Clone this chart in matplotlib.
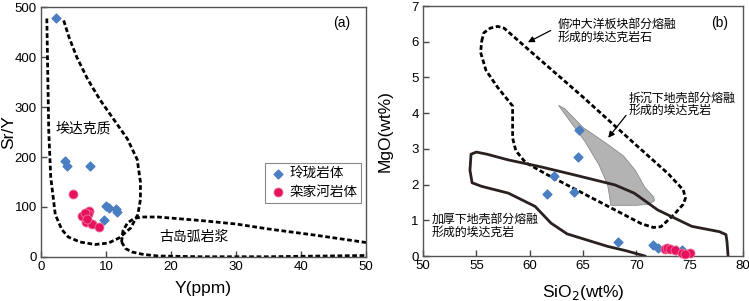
"""
Sr/Y vs Y and MgO vs SiO2 adakite discrimination plots (two panels).
"""

import numpy as np
import matplotlib
matplotlib.use("Agg")
import matplotlib.pyplot as plt
from matplotlib.patches import Polygon

plt.rcParams["font.family"] = ["Liberation Sans", "Noto Sans CJK SC", "DejaVu Sans"]
CJK = ["Noto Sans CJK SC", "DejaVu Sans"]

BLUE = "#4a7ec2"
PINK = "#e6125e"
LINE = "#2b2020"

# ---- panel (a): Y vs Sr/Y ----
ling_y = [2.3, 3.7, 4.0, 7.5, 10.0, 10.4, 11.5, 11.7, 9.7]
ling_sry = [479, 192, 183, 182, 102, 97, 95, 89, 74]
luan_y = [5.0, 6.3, 7.4, 7.3, 6.8, 6.9, 7.8, 8.9, 7.1]
luan_sry = [125, 82, 91, 85, 87, 69, 66, 59, 76]

adakite_x = [0.9, 1.0, 1.2, 1.5, 2.2, 3.2, 4.2, 6.0, 8.3, 10.4, 12.0, 13.8, 14.9,
             15.3, 15.3, 14.8, 13.3, 11.2, 9.1, 7.2, 5.5, 4.3, 3.4]
adakite_sry = [477, 400, 250, 160, 85, 55, 40, 30, 25, 28, 38, 58, 85,
               115, 150, 195, 236, 275, 314, 355, 400, 440, 477]

arc_top_x = [12.4, 12.6, 13.3, 14.3, 15.5, 18.0, 24.5, 30.0, 35.0, 42.0, 50.0]
arc_top_sry = [30, 52, 68, 77, 80, 80, 73, 66, 56, 44, 29]
arc_bot_x = [12.4, 13.0, 14.0, 15.8, 18.0, 24.5, 35.0, 50.0]
arc_bot_sry = [30, 17, 10, 5, 2, 0.5, 0.5, 3]

# ---- panel (b): SiO2 vs MgO ----
ling_si = [64.6, 64.5, 62.3, 61.6, 64.2, 68.3, 71.6, 72.0, 73.75, 74.3]
ling_mg = [3.53, 2.78, 2.25, 1.74, 1.80, 0.39, 0.32, 0.22, 0.16, 0.18]
luan_si = [72.7, 72.9, 73.2, 73.6, 74.3, 75.0, 74.6]
luan_mg = [0.20, 0.23, 0.20, 0.16, 0.08, 0.08, 0.06]

slab_si = [55.5, 55.7, 56.3, 57.0, 57.6, 60.0, 65.0, 70.0, 73.0, 74.4, 74.6, 74.4,
           73.5, 72.3, 71.6, 70.5, 66.0, 61.5, 59.6, 58.7, 58.4, 58.4, 57.0, 55.9,
           55.4, 55.5]
slab_mg = [6.02, 6.25, 6.38, 6.43, 6.38, 5.75, 4.45, 3.10, 2.30, 1.85, 1.62, 1.45,
           1.15, 0.82, 0.80, 0.90, 1.60, 2.30, 2.62, 2.95, 3.30, 4.20, 4.72, 5.20,
           5.70, 6.02]

delam_si = [62.7, 63.3, 65.0, 67.2, 68.8, 69.9, 70.8, 71.6, 71.7, 71.2, 70.0,
            67.6, 67.5, 67.3, 66.5, 65.2, 63.6, 62.7]
delam_mg = [4.22, 4.12, 3.60, 3.15, 2.80, 2.40, 1.92, 1.66, 1.55, 1.45, 1.42,
            1.42, 1.65, 2.00, 2.55, 3.20, 3.85, 4.22]

thick_si = [70.8, 69.0, 67.3, 64.8, 63.5, 62.0, 60.5, 58.0, 55.5, 54.6, 54.4,
            54.5, 55.0, 56.0, 58.0, 61.0, 64.2, 68.0, 69.8, 72.0, 75.2, 77.8,
            78.4, 78.5, 78.6]
thick_mg = [0.0, 0.15, 0.27, 0.50, 0.62, 0.92, 1.39, 1.76, 1.95, 2.05, 2.40,
            2.85, 2.91, 2.85, 2.69, 2.50, 2.27, 1.99, 1.76, 1.29, 0.83, 0.68,
            0.60, 0.40, 0.0]

fig = plt.figure(figsize=(7.49, 3.01), dpi=100)
ax1 = fig.add_axes([0.0547, 0.1462, 0.434, 0.8305])
ax2 = fig.add_axes([0.5648, 0.1495, 0.4272, 0.8305])

dash = dict(color="black", lw=2.0, ls=(0, (1.7, 0.95)))

for ax in (ax1, ax2):
    for s in ax.spines.values():
        s.set_color("#555555")
        s.set_linewidth(1.0)
    ax.tick_params(direction="in", length=4, width=1, color="#444444",
                   labelsize=9.5, top=False, right=False, pad=3)

# panel a
ax1.plot(adakite_x, adakite_sry, **dash)
ax1.plot(arc_top_x, arc_top_sry, **dash)
ax1.plot(arc_bot_x, arc_bot_sry, **dash)
ax1.scatter(ling_y, ling_sry, marker="D", s=20, color=BLUE, label="玲珑岩体", zorder=3)
ax1.scatter(luan_y, luan_sry, marker="o", s=42, color=PINK, edgecolor="#f0709a",
            lw=0.6, label="栾家河岩体", zorder=3)
ax1.set_xlim(0, 50)
ax1.set_ylim(0, 500)
ax1.set_xticks(range(0, 51, 10))
ax1.set_yticks(range(0, 501, 100))
ax1.set_xlabel("Y(ppm)", fontsize=12.5)
ax1.set_ylabel("Sr/Y", fontsize=12.5)
ax1.xaxis.set_label_coords(0.5, -0.095)
ax1.yaxis.set_label_coords(-0.077, 0.5)
ax1.text(2.2, 257, "埃达克质", family=CJK, fontsize=10, va="center")
ax1.text(18.2, 40, "古岛弧岩浆", family=CJK, fontsize=10, va="center")
ax1.text(46.3, 468, "(a)", fontsize=10, ha="center", va="center")
leg = ax1.legend(loc="upper right", bbox_to_anchor=(0.986, 0.378),
                 prop={"family": CJK, "size": 9.8},
                 fancybox=False, edgecolor="#888888", framealpha=1, handletextpad=0.2,
                 borderpad=0.3, labelspacing=0.3, handlelength=1.3, scatterpoints=1,
                 borderaxespad=0)
leg.get_frame().set_linewidth(0.8)

# panel b
ax2.add_patch(Polygon(np.column_stack([delam_si, delam_mg]), closed=True,
                      facecolor="#b3b3b3", edgecolor="#8a8a8a", lw=0.6, zorder=1))
ax2.plot(slab_si, slab_mg, **dash, zorder=2)
ax2.plot(thick_si, thick_mg, color=LINE, lw=2.0, zorder=2)
ax2.scatter(ling_si, ling_mg, marker="D", s=20, color=BLUE, zorder=3, clip_on=False)
ax2.scatter(luan_si, luan_mg, marker="o", s=42, color=PINK, edgecolor="#f0709a",
            lw=0.6, zorder=3, clip_on=False)
ax2.set_xlim(50, 80)
ax2.set_ylim(0, 7)
ax2.set_xticks(range(50, 81, 5))
ax2.set_yticks(range(0, 8))
ax2.set_xlabel("SiO$_2$(wt%)", fontsize=12.5)
ax2.set_ylabel("MgO(wt%)", fontsize=12.5)
ax2.xaxis.set_label_coords(0.5, -0.108)
ax2.yaxis.set_label_coords(-0.094, 0.5)
ax2.text(77.8, 6.53, "(b)", fontsize=10, ha="center", va="center")
ax2.text(62.6, 6.30, "俯冲大洋板块部分熔融\n形成的埃达克岩石", family=CJK, fontsize=8.6,
         va="center", linespacing=0.95)
ax2.text(69.3, 4.25, "拆沉下地壳部分熔融\n形成的埃达克岩", family=CJK, fontsize=8.6,
         va="center", linespacing=0.95)
ax2.text(50.8, 0.85, "加厚下地壳部分熔融\n形成的埃达克岩", family=CJK, fontsize=8.6,
         va="center", linespacing=0.95)
arrow = dict(arrowstyle="-|>", color="black", lw=0.9, mutation_scale=9)
ax2.annotate("", xy=(59.6, 5.95), xytext=(62.2, 6.35), arrowprops=arrow)
ax2.annotate("", xy=(67.2, 3.25), xytext=(69.2, 4.0), arrowprops=arrow)

fig.savefig("out.png", dpi=100)
